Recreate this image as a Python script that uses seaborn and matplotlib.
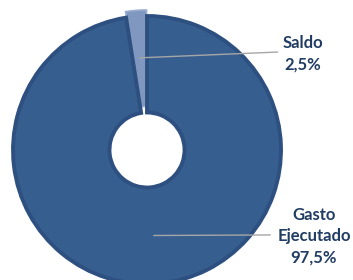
import numpy as np
import matplotlib
matplotlib.use("Agg")
import matplotlib.pyplot as plt
import seaborn as sns

# data
labels = ["Saldo", "Gasto\nEjecutado"]
shares = [2.5, 97.5]
share_text = ["2,5%", "97,5%"]
colors = ["#8097bf", "#365f90"]

sns.set_theme(style="white")
plt.rcParams['font.family'] = ['Lato', 'DejaVu Sans']

fig = plt.figure(figsize=(3.53, 2.80), dpi=100)
ax = fig.add_axes([0, 0, 1, 1])

wedges, _ = ax.pie(shares, colors=colors, startangle=90, counterclock=True,
                   explode=[0.045, 0], radius=1.0,
                   wedgeprops=dict(width=0.72, edgecolor="#2d5080", linewidth=2.8))
# the small slice has a light rim in the original
wedges[0].set_edgecolor("#9aaed0")
wedges[0].set_linewidth(1.2)

# label positions (text blocks to the right of the donut)
text_pos = [(1.164, 0.716), (1.246, -0.642)]
line_end = [0.975, 0.92]
for w, lab, pct, (tx, ty), lx in zip(wedges, labels, share_text, text_pos, line_end):
    ang = np.deg2rad((w.theta1 + w.theta2) / 2)
    r = 0.69 if lab == "Saldo" else 0.64
    x0, y0 = r * np.cos(ang), r * np.sin(ang)
    ax.plot([x0, lx], [y0, ty + (0.015 if lab == "Saldo" else 0.008)],
            color="#a6a6a6", lw=1.0)
    ax.text(tx, ty, lab + "\n" + pct, ha="center", va="center",
            fontsize=12, fontweight="bold", color="#213d63", linespacing=1.42)

ax.set_aspect("auto")
ax.set_xlim(-147 / 134, (353 - 147) / 134)
ax.set_ylim(-(280 - 150) / 134, 150 / 134)
ax.axis("off")

fig.savefig("out.png", dpi=100, facecolor="white")
